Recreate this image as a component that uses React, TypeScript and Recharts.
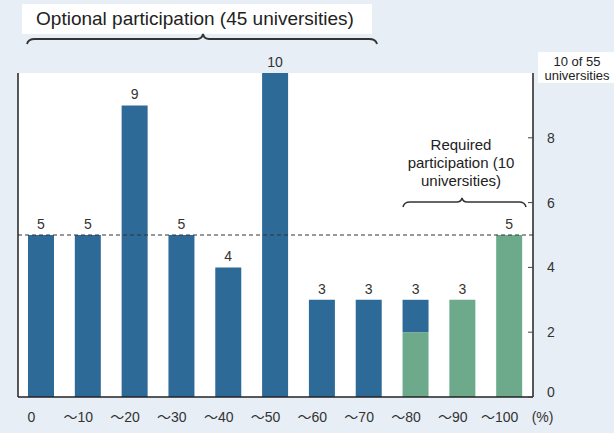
import React from 'react';
import { BarChart, Bar, XAxis, YAxis, CartesianGrid, ReferenceLine, LabelList } from 'recharts';

const categories = ['0', '～10', '～20', '～30', '～40', '～50', '～60', '～70', '～80', '～90', '～100'];
const optionalCounts = [5, 5, 9, 5, 4, 10, 3, 3, 1, 0, 0];
const requiredCounts = [0, 0, 0, 0, 0, 0, 0, 0, 2, 3, 5];
const totals = [5, 5, 9, 5, 4, 10, 3, 3, 3, 3, 5];
const rightTicks = [0, 2, 4, 6, 8];
const averageLine = 5;

const data = categories.map((cat, i) => ({
  cat,
  optional: optionalCounts[i],
  required: requiredCounts[i],
  total: totals[i],
  // label sits on whichever segment is on top of the stack
  labelOnOptional: optionalCounts[i] > 0 ? totals[i] : null,
  labelOnRequired: optionalCounts[i] > 0 ? null : totals[i],
}));

const FONT = '"Liberation Sans", Arial, "Noto Sans CJK JP", sans-serif';
const BLUE = '#2e6a98';
const GREEN = '#6caa8b';
const BG = '#e8eef5';

const XTick = (props: any) => {
  const { x, y, payload, index } = props;
  const last = index === categories.length - 1;
  return (
    <g>
      <text x={x - 10} y={y + 25} textAnchor="middle" fontSize={14} fill="#333" fontFamily={FONT}>
        {payload.value}
      </text>
      {last && (
        <text x={x + 33} y={y + 25} textAnchor="middle" fontSize={14} fill="#333" fontFamily={FONT}>
          (%)
        </text>
      )}
    </g>
  );
};

const RightTick = (props: any) => {
  const { x, y, payload } = props;
  const shift = payload.value === 0 ? -5 : 0;
  return (
    <g>
      <line x1={x - 5} x2={x} y1={y} y2={y} stroke="#444" strokeWidth={1} />
      <text x={x + 18} y={y + 5 + shift} textAnchor="middle" fontSize={14} fill="#333" fontFamily={FONT}>
        {payload.value}
      </text>
    </g>
  );
};

export default function App() {
  return (
    <div style={{ position: 'absolute', left: 0, top: 0, width: 614, height: 433, background: BG, fontFamily: FONT }}>
      <BarChart
        width={614}
        height={433}
        data={data}
        margin={{ top: 73, right: 0, bottom: 0, left: 17 }}
        barSize={26}
      >
        <CartesianGrid horizontal={false} vertical={false} fill="#ffffff" />
        <XAxis
          dataKey="cat"
          height={36}
          axisLine={{ stroke: '#222', strokeWidth: 1.5 }}
          tickLine={false}
          tickSize={0}
          tickMargin={0}
          tick={XTick}
          interval={0}
        />
        <XAxis
          xAxisId="top"
          dataKey="cat"
          orientation="top"
          height={0}
          tick={false}
          tickLine={false}
          axisLine={{ stroke: '#222', strokeWidth: 1.5 }}
        />
        <YAxis
          orientation="right"
          width={81}
          domain={[0, 10]}
          ticks={rightTicks}
          axisLine={{ stroke: '#222', strokeWidth: 1.5 }}
          tickLine={false}
          tickSize={0}
          tickMargin={0}
          tick={RightTick}
          interval={0}
        />
        <YAxis
          yAxisId="l"
          orientation="left"
          width={1}
          domain={[0, 10]}
          tick={false}
          tickLine={false}
          axisLine={{ stroke: '#222', strokeWidth: 1.5 }}
        />
        <ReferenceLine y={averageLine} stroke="#333" strokeDasharray="4 3" strokeWidth={1} />
        <Bar dataKey="required" stackId="a" fill={GREEN} isAnimationActive={false}>
          <LabelList dataKey="labelOnRequired" position="top" offset={6} fontSize={14} fill="#333" fontFamily={FONT} />
        </Bar>
        <Bar dataKey="optional" stackId="a" fill={BLUE} isAnimationActive={false}>
          <LabelList dataKey="labelOnOptional" position="top" offset={6} fontSize={14} fill="#333" fontFamily={FONT} />
        </Bar>
      </BarChart>
      <svg
        width={614}
        height={433}
        style={{ position: 'absolute', left: 0, top: 0, pointerEvents: 'none' }}
      >
        <rect x={22} y={4} width={350} height={30} fill="#fff" />
        <text x={195} y={25} textAnchor="middle" fontSize={19} fill="#222" fontFamily={FONT}>
          Optional participation (45 universities)
        </text>
        <path
          d="M27,44 Q28,39 35,39 L197,39 Q202,39 203,34 Q204,39 209,39 L369,39 Q376,39 377,44"
          fill="none"
          stroke="#333"
          strokeWidth={1.8}
        />
        <rect x={538} y={52} width={76} height={31} fill="#fff" />
        <text x={577} y={66} textAnchor="middle" fontSize={13} fill="#222" fontFamily={FONT}>
          10 of 55
        </text>
        <text x={577} y={80} textAnchor="middle" fontSize={13} fill="#222" fontFamily={FONT}>
          universities
        </text>
        <text x={461} y={150} textAnchor="middle" fontSize={15} fill="#222" fontFamily={FONT}>
          Required
        </text>
        <text x={461} y={168} textAnchor="middle" fontSize={15} fill="#222" fontFamily={FONT}>
          participation (10
        </text>
        <text x={461} y={186} textAnchor="middle" fontSize={15} fill="#222" fontFamily={FONT}>
          universities)
        </text>
        <path
          d="M403,207 Q404,202 410,202 L457,202 Q461,202 462,198 Q463,202 467,202 L519,202 Q525,202 526,207"
          fill="none"
          stroke="#333"
          strokeWidth={1.5}
        />
      </svg>
    </div>
  );
}
